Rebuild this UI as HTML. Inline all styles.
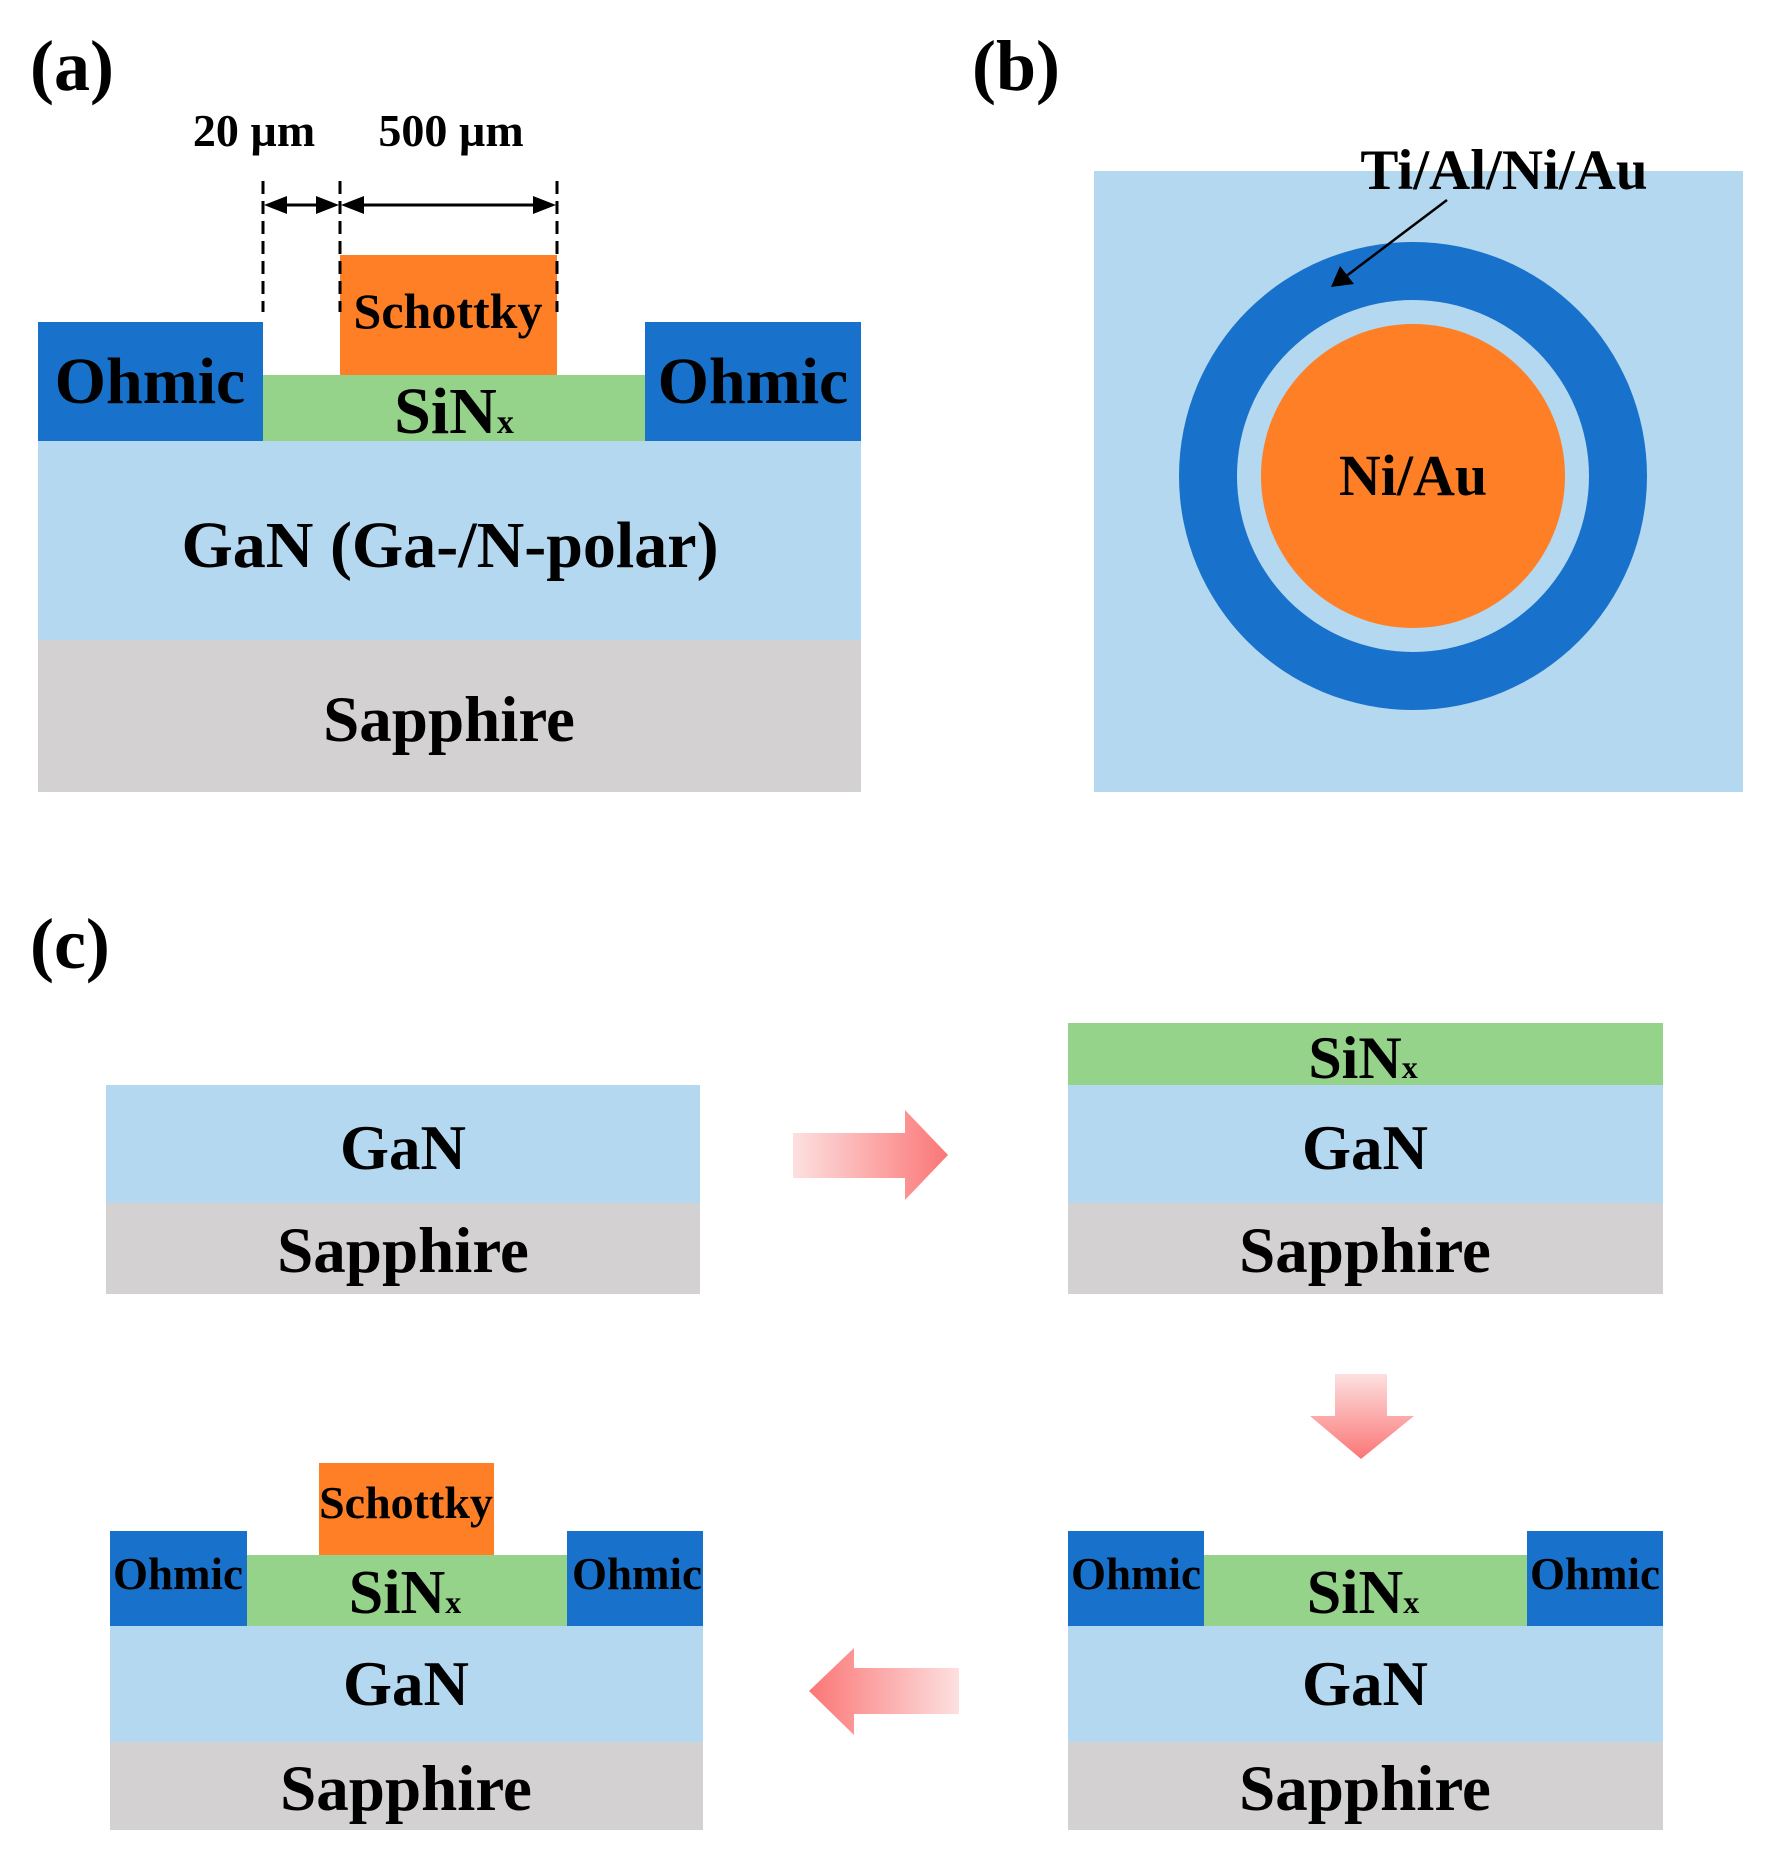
<!DOCTYPE html>
<html><head><meta charset="utf-8"><style>
html,body{margin:0;padding:0;background:#fff;}
svg{display:block;}
text{font-family:"Liberation Serif",serif;font-weight:bold;fill:#000;}
</style></head><body>
<svg width="1765" height="1861" viewBox="0 0 1765 1861" xmlns="http://www.w3.org/2000/svg">
<defs>
<linearGradient id="gr" x1="0" y1="0" x2="1" y2="0"><stop offset="0" stop-color="#fde0e0"/><stop offset="1" stop-color="#fb7676"/></linearGradient>
<linearGradient id="gl" x1="1" y1="0" x2="0" y2="0"><stop offset="0" stop-color="#fde0e0"/><stop offset="1" stop-color="#fb7676"/></linearGradient>
<linearGradient id="gd" x1="0" y1="0" x2="0" y2="1"><stop offset="0" stop-color="#fde0e0"/><stop offset="1" stop-color="#fb7676"/></linearGradient>
</defs>

<!-- (a) -->
<text x="30" y="90" font-size="72">(a)</text>
<text x="254" y="146" font-size="46" text-anchor="middle">20 µm</text>
<text x="451" y="146" font-size="46" text-anchor="middle">500 µm</text>
<rect x="38" y="322" width="225" height="120" fill="#1872cc"/>
<rect x="645" y="322" width="216" height="120" fill="#1872cc"/>
<rect x="263" y="375" width="382" height="67" fill="#95d38a"/>
<rect x="340" y="255" width="217" height="120" fill="#fe7f26"/>
<rect x="38" y="441" width="823" height="200" fill="#b4d8ef"/>
<rect x="38" y="640" width="823" height="152" fill="#d4d1d2"/>
<g stroke="#000" stroke-width="3" stroke-dasharray="13,7">
<line x1="263" y1="181" x2="263" y2="312"/>
<line x1="340" y1="181" x2="340" y2="312"/>
<line x1="557" y1="181" x2="557" y2="312"/>
</g>
<g stroke="#000" stroke-width="3"><line x1="275" y1="205" x2="328" y2="205"/><line x1="352" y1="205" x2="545" y2="205"/></g>
<g fill="#000">
<polygon points="264,205 287,196 287,214"/><polygon points="339,205 316,196 316,214"/>
<polygon points="341,205 364,196 364,214"/><polygon points="556,205 533,196 533,214"/>
</g>
<text x="150" y="403" font-size="66" text-anchor="middle">Ohmic</text>
<text x="753" y="403" font-size="66" text-anchor="middle">Ohmic</text>
<text x="448" y="328" font-size="50" text-anchor="middle">Schottky</text>
<text x="454" y="433" font-size="66" text-anchor="middle">SiN<tspan font-size="34">x</tspan></text>
<text x="450" y="567" font-size="66" text-anchor="middle">GaN (Ga-/N-polar)</text>
<text x="449" y="741" font-size="65" text-anchor="middle">Sapphire</text>

<!-- (b) -->
<text x="972" y="90" font-size="72">(b)</text>
<rect x="1094" y="171" width="649" height="621" fill="#b4d8ef"/>
<circle cx="1413" cy="476" r="234" fill="#1872cc"/>
<circle cx="1413" cy="476" r="176" fill="#b4d8ef"/>
<circle cx="1413" cy="476" r="152" fill="#fe7f26"/>
<text x="1504" y="189" font-size="57" text-anchor="middle">Ti/Al/Ni/Au</text>
<line x1="1447" y1="200" x2="1345" y2="277" stroke="#000" stroke-width="2.5"/>
<polygon points="1331,287 1340,266 1354,284" fill="#000"/>
<text x="1413" y="495" font-size="58" text-anchor="middle">Ni/Au</text>

<!-- (c) -->
<text x="30" y="968" font-size="72">(c)</text>
<!-- top-left -->
<rect x="106" y="1085" width="594" height="119" fill="#b4d8ef"/>
<rect x="106" y="1203" width="594" height="91" fill="#d4d1d2"/>
<text x="403" y="1169" font-size="63" text-anchor="middle">GaN</text>
<text x="403" y="1272" font-size="65" text-anchor="middle">Sapphire</text>
<!-- right arrow -->
<polygon points="793,1133 905,1133 905,1110 948,1155 905,1200 905,1178 793,1178" fill="url(#gr)"/>
<!-- top-right -->
<rect x="1068" y="1023" width="595" height="63" fill="#95d38a"/>
<rect x="1068" y="1085" width="595" height="119" fill="#b4d8ef"/>
<rect x="1068" y="1203" width="595" height="91" fill="#d4d1d2"/>
<text x="1363" y="1078" font-size="60" text-anchor="middle">SiN<tspan font-size="32">x</tspan></text>
<text x="1365" y="1169" font-size="63" text-anchor="middle">GaN</text>
<text x="1365" y="1272" font-size="65" text-anchor="middle">Sapphire</text>
<!-- down arrow -->
<polygon points="1335,1374 1387,1374 1387,1416 1414,1416 1361,1459 1310,1416 1335,1416" fill="url(#gd)"/>
<!-- bottom-right -->
<rect x="1204" y="1555" width="323" height="72" fill="#95d38a"/>
<rect x="1068" y="1531" width="136" height="96" fill="#1872cc"/>
<rect x="1527" y="1531" width="136" height="96" fill="#1872cc"/>
<rect x="1068" y="1626" width="595" height="117" fill="#b4d8ef"/>
<rect x="1068" y="1742" width="595" height="88" fill="#d4d1d2"/>
<text x="1136" y="1589" font-size="45" text-anchor="middle">Ohmic</text>
<text x="1595" y="1589" font-size="45" text-anchor="middle">Ohmic</text>
<text x="1363" y="1613" font-size="62" text-anchor="middle">SiN<tspan font-size="32">x</tspan></text>
<text x="1365" y="1705" font-size="63" text-anchor="middle">GaN</text>
<text x="1365" y="1810" font-size="65" text-anchor="middle">Sapphire</text>
<!-- left arrow -->
<polygon points="959,1668 854,1668 854,1648 809,1691 854,1735 854,1714 959,1714" fill="url(#gl)"/>
<!-- bottom-left -->
<rect x="319" y="1463" width="175" height="93" fill="#fe7f26"/>
<rect x="247" y="1555" width="320" height="72" fill="#95d38a"/>
<rect x="110" y="1531" width="137" height="96" fill="#1872cc"/>
<rect x="567" y="1531" width="136" height="96" fill="#1872cc"/>
<rect x="110" y="1626" width="593" height="117" fill="#b4d8ef"/>
<rect x="110" y="1742" width="593" height="88" fill="#d4d1d2"/>
<text x="406" y="1518" font-size="46" text-anchor="middle">Schottky</text>
<text x="178" y="1589" font-size="45" text-anchor="middle">Ohmic</text>
<text x="637" y="1589" font-size="45" text-anchor="middle">Ohmic</text>
<text x="405" y="1613" font-size="62" text-anchor="middle">SiN<tspan font-size="32">x</tspan></text>
<text x="406" y="1705" font-size="63" text-anchor="middle">GaN</text>
<text x="406" y="1810" font-size="65" text-anchor="middle">Sapphire</text>
</svg>
</body></html>
